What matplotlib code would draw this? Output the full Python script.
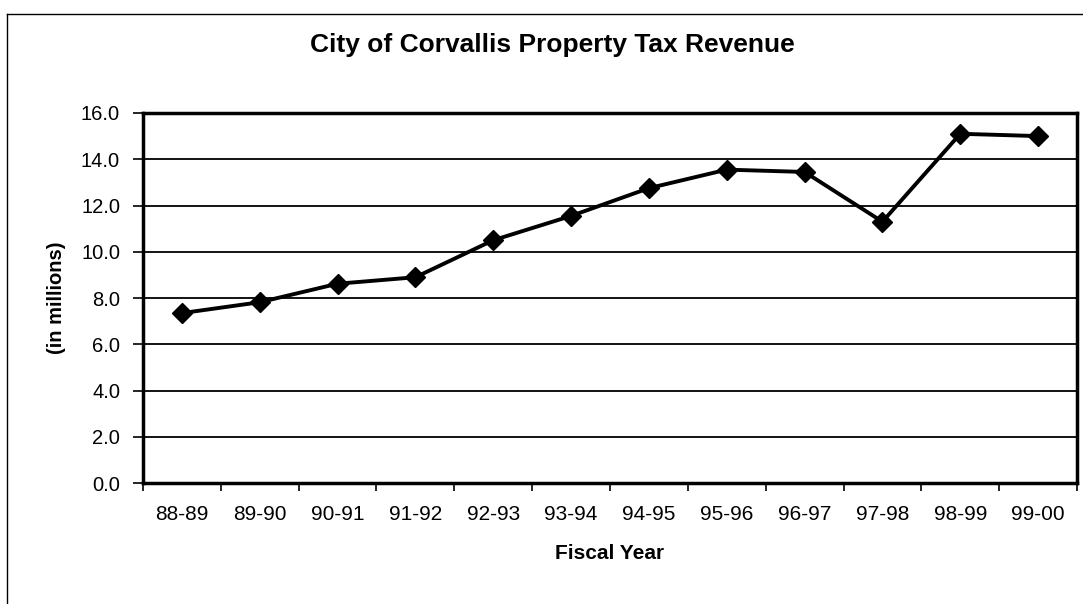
import matplotlib.pyplot as plt
from matplotlib.lines import Line2D

# fiscal years and revenue (millions)
years = ["88-89", "89-90", "90-91", "91-92", "92-93", "93-94",
         "94-95", "95-96", "96-97", "97-98", "98-99", "99-00"]
revenue = [7.35, 7.82, 8.62, 8.9, 10.5, 11.55,
           12.75, 13.55, 13.45, 11.3, 15.1, 15.0]
y_ticks = [0, 2, 4, 6, 8, 10, 12, 14, 16]

plt.rcParams['font.family'] = ['Liberation Sans', 'DejaVu Sans']

fig = plt.figure(figsize=(10.83, 6.04), dpi=100)
ax = fig.add_axes([0.132, 0.200, 0.8625, 0.613])

x = list(range(len(years)))
ax.plot(x, revenue, color="black", linewidth=2.8, marker="D",
        markersize=10, markerfacecolor="black", zorder=3)

ax.set_xlim(-0.5, len(years) - 0.5)
ax.set_ylim(0, 16)
ax.set_yticks(y_ticks)
ax.set_yticklabels(["%.1f" % v for v in y_ticks], fontsize=14.5)
ax.set_xticks(x)
ax.set_xticklabels(years, fontsize=15)
ax.tick_params(axis="x", length=0, pad=16)
ax.set_xticks([i - 0.5 for i in range(len(years) + 1)], minor=True)
ax.tick_params(axis="x", which="minor", length=6, width=1.2, direction="out")
ax.tick_params(axis="y", length=7, width=1.2, direction="out", pad=9.5)

ax.grid(axis="y", color="black", linewidth=1.3)
ax.set_axisbelow(True)
for s in ax.spines.values():
    s.set_linewidth(2.5)

ax.set_xlabel("Fiscal Year", fontsize=15, fontweight="bold", labelpad=14)
ax.set_ylabel("(in millions)", fontsize=14.5, fontweight="bold", labelpad=11)
fig.text(0.51, 0.925, "City of Corvallis Property Tax Revenue",
         ha="center", va="center", fontsize=19, fontweight="bold")

# outer chart frame (left and top edges visible)
fig.add_artist(Line2D([0.0065, 0.0065], [0.0, 0.977], transform=fig.transFigure,
                      color="black", linewidth=1.0))
fig.add_artist(Line2D([0.0065, 1.0], [0.977, 0.977], transform=fig.transFigure,
                      color="black", linewidth=1.0))

fig.savefig("out.png", dpi=100)
